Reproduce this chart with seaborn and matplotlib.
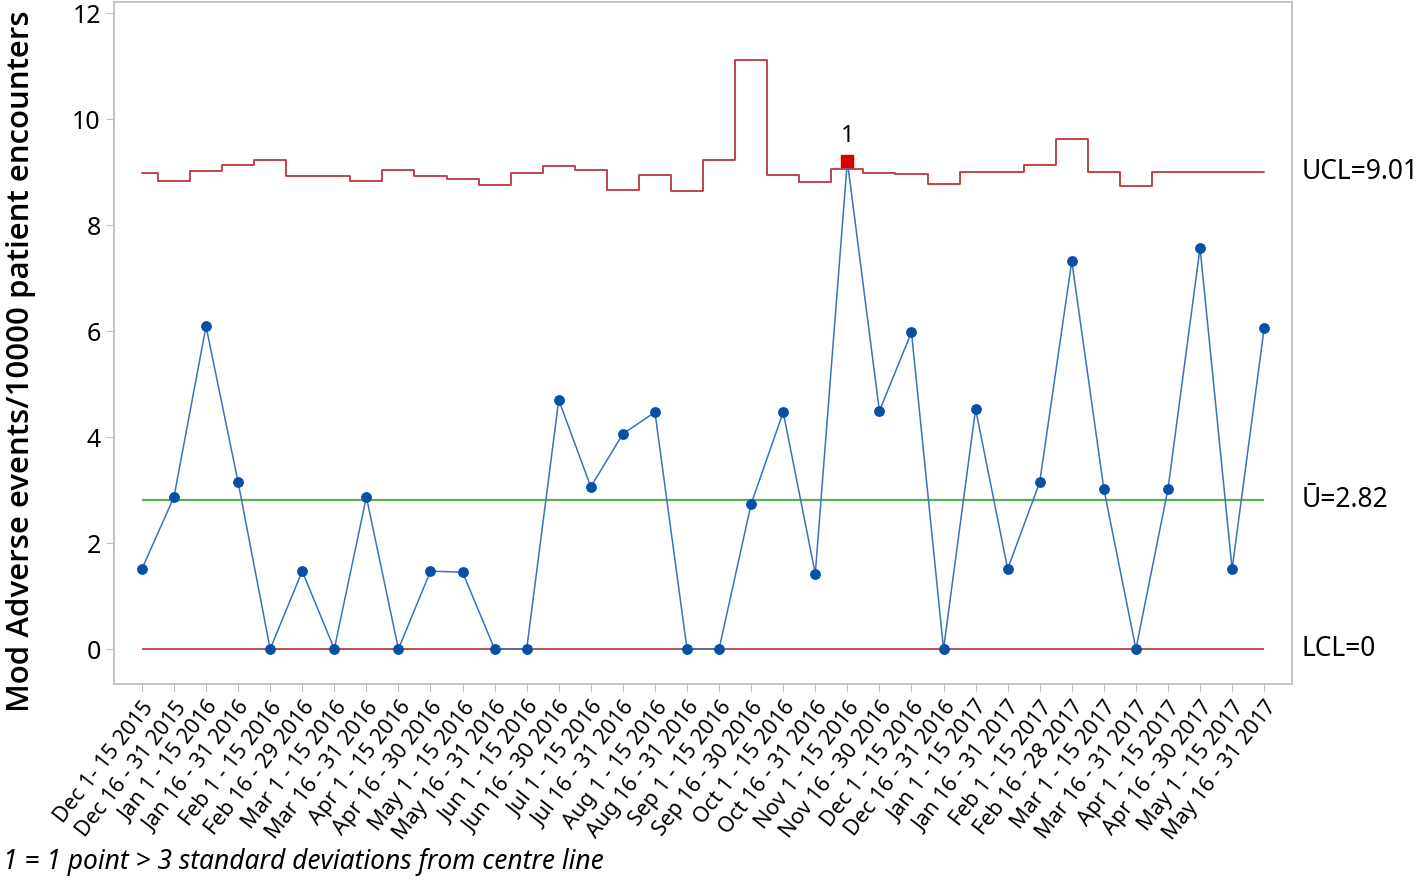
import numpy as np
import pandas as pd
import seaborn as sns
import matplotlib.pyplot as plt

# half-month periods, Dec 2015 - May 2017
periods = ["Dec 1- 15 2015", "Dec 16 - 31 2015", "Jan 1 - 15 2016", "Jan 16 - 31 2016",
           "Feb 1 - 15 2016", "Feb 16 - 29 2016", "Mar 1 - 15 2016", "Mar 16 - 31 2016",
           "Apr 1 - 15 2016", "Apr 16 - 30 2016", "May 1 - 15 2016", "May 16 - 31 2016",
           "Jun 1 - 15 2016", "Jun 16 - 30 2016", "Jul 1 - 15 2016", "Jul 16 - 31 2016",
           "Aug 1 - 15 2016", "Aug 16 - 31 2016", "Sep 1 - 15 2016", "Sep 16 - 30 2016",
           "Oct 1 - 15 2016", "Oct 16 - 31 2016", "Nov 1 - 15 2016", "Nov 16 - 30 2016",
           "Dec 1 - 15 2016", "Dec 16 - 31 2016", "Jan 1 - 15 2017", "Jan 16 - 31 2017",
           "Feb 1 - 15 2017", "Feb 16 - 28 2017", "Mar 1 - 15 2017", "Mar 16 - 31 2017",
           "Apr 1 - 15 2017", "Apr 16 - 30 2017", "May 1 - 15 2017", "May 16 - 31 2017"]

# adverse events per 10000 encounters
rate = [1.51, 2.87, 6.09, 3.15, 0, 1.47, 0, 2.87, 0, 1.47, 1.45, 0,
        0, 4.70, 3.06, 4.06, 4.47, 0, 0, 2.74, 4.47, 1.42, 9.21, 4.49,
        5.98, 0, 4.53, 1.51, 3.15, 7.32, 3.02, 0, 3.02, 7.57, 1.51, 6.06]

# upper control limit for each period
ucl = [8.98, 8.83, 9.02, 9.14, 9.23, 8.93, 8.93, 8.83, 9.04, 8.93, 8.87, 8.75,
       8.99, 9.12, 9.04, 8.67, 8.95, 8.65, 9.23, 11.12, 8.95, 8.81, 9.05, 8.98,
       8.97, 8.77, 9.00, 9.00, 9.14, 9.62, 9.00, 8.74, 9.00, 9.00, 9.00, 9.00]

ucl_label = 9.01
center = 2.82
lcl = 0
flagged = [22]

df = pd.DataFrame({"idx": np.arange(len(periods)), "rate": rate, "ucl": ucl})

sns.set_style("white")
plt.rcParams['font.family'] = ['Noto Sans', 'DejaVu Sans']
plt.rcParams['text.color'] = 'black'
plt.rcParams['axes.labelcolor'] = 'black'

fig = plt.figure(figsize=(14.18, 8.8), dpi=100)
ax = fig.add_axes([0.0804, 0.2227, 0.8308, 0.775])

sns.lineplot(data=df, x="idx", y="ucl", ax=ax, color="#b8393c", lw=1.3,
             drawstyle="steps-mid")
ax.hlines(center, 0, len(periods) - 1, color="#5aab5a", lw=1.6)
ax.hlines(lcl, 0, len(periods) - 1, color="#c0504d", lw=1.4)

sns.lineplot(data=df, x="idx", y="rate", ax=ax, color="#3a72c0", lw=1.1,
             marker="o", markersize=7, markerfacecolor="#0a4fa6",
             markeredgecolor="#0a4fa6")

fl = df.loc[flagged]
ax.plot(fl["idx"], fl["rate"], "s", color="#d90000", markersize=8, zorder=5)
for i, r in zip(fl["idx"], fl["rate"]):
    ax.text(i, r + 0.25, "1", ha="center", va="bottom", fontsize=17)

ax.set_xlim(-0.87, 35.87)
ax.set_ylim(-0.66, 12.21)
ax.set_yticks(range(0, 13, 2))
ax.set_xticks(df["idx"])
ax.set_xticklabels(periods, rotation=52, ha="right", rotation_mode="anchor", fontsize=15.5)
ax.tick_params(axis="y", labelsize=18, length=6, color="#bfbfbf", labelcolor="black",
               direction="out", left=True)
ax.tick_params(axis="x", length=6, color="#bfbfbf", labelcolor="black",
               direction="out", bottom=True)
for s in ax.spines.values():
    s.set_color("#bfbfbf")
    s.set_linewidth(1.3)

ax.set_xlabel("")
ax.set_ylabel("Mod Adverse events/10000 patient encounters", fontsize=22.5,
              fontweight="semibold", family=["Open Sans", "Noto Sans", "DejaVu Sans"])
ax.yaxis.set_label_coords(-0.066, 0.474)

# limit labels on the right
ax.text(1.008, ucl_label, "UCL=9.01", transform=ax.get_yaxis_transform(),
        va="center", ha="left", fontsize=19)
ax.text(1.008, center, "\u016a=2.82", transform=ax.get_yaxis_transform(),
        va="center", ha="left", fontsize=19)
ax.text(1.008, lcl, "LCL=0", transform=ax.get_yaxis_transform(),
        va="center", ha="left", fontsize=19)

fig.text(0.002, 0.0205, "1 = 1 point > 3 standard deviations from centre line",
         fontsize=19, style="italic", ha="left", va="center")

fig.savefig("out.png", dpi=100)
